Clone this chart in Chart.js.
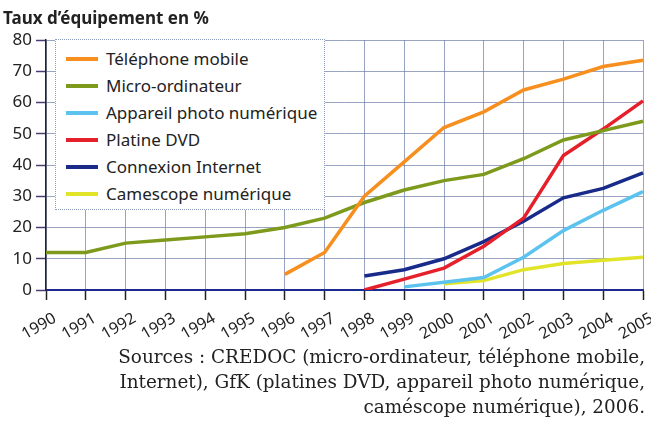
<!DOCTYPE html>
<html>
<head>
<meta charset="utf-8">
<script src="https://cdn.jsdelivr.net/npm/chart.js@4.4.1/dist/chart.umd.min.js"></script>
<style>
  body { margin: 0; background: #fff; }
  #wrap { position: relative; width: 651px; height: 427px; overflow: hidden; }
  #myChart { position: absolute; left: 0; top: 0; }
  #title { position: absolute; left: 3px; top: 6px; font: bold 17px "Noto Sans", sans-serif; color: #222; }
  #legend { position: absolute; left: 55px; top: 39px; width: 270px; height: 171px; background: #fff;
            border: 1px dotted #8f9cc0; box-sizing: border-box; padding-top: 5px; }
  .item { height: 27px; display: flex; align-items: center; font: 17px "Noto Sans", sans-serif; color: #222; }
  .item span.sw { display: inline-block; width: 32px; height: 4px; margin-left: 10px; margin-right: 8px; }
  #source { position: absolute; right: 6px; top: 344px; text-align: right; font: 18.4px "DejaVu Serif", serif;
            line-height: 25px; color: #222; white-space: nowrap; }
</style>
</head>
<body>
<div id="wrap">
  <canvas id="myChart" width="651" height="427"></canvas>
  <div id="title">Taux d’équipement en %</div>
  <div id="legend"></div>
  <div id="source">Sources : CREDOC (micro-ordinateur, téléphone mobile,<br>Internet), GfK (platines DVD, appareil photo numérique,<br>caméscope numérique), 2006.</div>
</div>
<script>
const ctx = document.getElementById('myChart');

// Data (null = no value that year)
const years = ['1990', '1991', '1992', '1993', '1994', '1995', '1996', '1997',
               '1998', '1999', '2000', '2001', '2002', '2003', '2004', '2005'];
const seriesNames = ['Téléphone mobile', 'Micro-ordinateur', 'Appareil photo numérique',
                     'Platine DVD', 'Connexion Internet', 'Camescope numérique'];
const mobile   = [null, null, null, null, null, null, 5, 12, 30, 41, 52, 57, 64, 67.5, 71.5, 73.5];
const micro    = [12, 12, 15, 16, 17, 18, 20, 23, 28, 32, 35, 37, 42, 48, 51, 54];
const photo    = [null, null, null, null, null, null, null, null, null, 1, 2.5, 4, 10.5, 19, 25.5, 31.5];
const dvd      = [null, null, null, null, null, null, null, null, 0, 3.5, 7, 14, 23, 43, 51.5, 60.5];
const internet = [null, null, null, null, null, null, null, null, 4.5, 6.5, 10, 15.5, 22, 29.5, 32.5, 37.5];
const camera   = [null, null, null, null, null, null, null, null, null, null, 2, 3, 6.5, 8.5, 9.5, 10.5];
const yTicks = [0, 10, 20, 30, 40, 50, 60, 70, 80];

const colours = ['#f78f1e', '#7d9a1c', '#5cc3ee', '#e5202b', '#182a8a', '#e2e42a'];
const allValues = [mobile, micro, photo, dvd, internet, camera];

let datasets = allValues.map((vals, i) => ({
    label: seriesNames[i],
    data: vals,
    borderColor: colours[i],
    backgroundColor: colours[i],
    borderWidth: 3.5,
    pointRadius: 0,
    tension: 0,
    spanGaps: false
}));

// html legend box, sits over the plot like in the print
const legendBox = document.getElementById('legend');
seriesNames.forEach((name, i) => {
    let row = document.createElement('div');
    row.className = 'item';
    row.innerHTML = '<span class="sw" style="background:' + colours[i] + '"></span>' + name;
    legendBox.appendChild(row);
});

const gridCol = 'rgba(110, 125, 170, 0.7)';

let options = {
    responsive: false,
    animation: false,
    layout: { padding: { top: 40, right: 8, left: 0, bottom: 0 } },
    plugins: { legend: { display: false }, tooltip: { enabled: false } },
    scales: {
        x: {
            type: 'category',
            offset: false,
            // fixed box so the plot area lands where the print has it
            afterFit: s => { s.height = 137; s.paddingLeft = 0; s.paddingRight = 0; },
            grid: {
                color: gridCol, lineWidth: 1, borderDash: [1, 5],
                drawTicks: true, tickLength: 10, tickColor: '#222', tickWidth: 1.5, tickBorderDash: []
            },
            border: { display: true, color: '#1b2a8f', width: 2 },
            ticks: {
                minRotation: 30, maxRotation: 30, autoSkip: false,
                padding: 9, labelOffset: 9,
                color: '#222', font: { family: 'Noto Sans', size: 16 }
            }
        },
        y: {
            min: 0, max: 80,
            afterFit: s => { s.width = 46; },
            afterBuildTicks: s => { s.ticks = yTicks.map(v => ({ value: v })); },
            grid: {
                color: gridCol, lineWidth: 1, borderDash: [1, 5],
                drawTicks: true, tickLength: 10, tickColor: '#4b3d70', tickWidth: 1.5, tickBorderDash: []
            },
            border: { display: true, color: '#222', width: 1.5 },
            ticks: { padding: 4, color: '#222', font: { family: 'Noto Sans', size: 17 } }
        }
    }
};

const myChart = new Chart(ctx, {
    type: 'line',
    data: { labels: years, datasets: datasets },
    options: options
});
</script>
</body>
</html>
